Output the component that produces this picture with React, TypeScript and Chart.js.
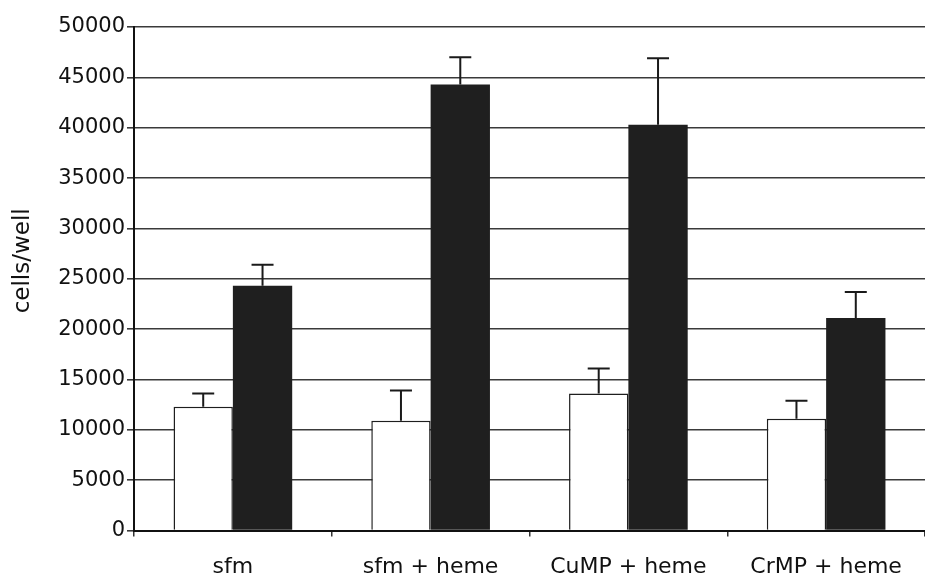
import React, { useEffect, useRef } from "react";
import { Chart, registerables } from "chart.js";

Chart.register(...registerables);

// Treatment groups along the x axis
const categories = ["sfm", "sfm + heme", "CuMP + heme", "CrMP + heme"];
// Mean cell counts per well
const openMeans = [12300, 10900, 13600, 11100];
const filledMeans = [24300, 44300, 40300, 21100];
// Upper error (SD) above each mean
const openErrors = [1300, 3000, 2500, 1800];
const filledErrors = [2100, 2700, 6600, 2600];
// Y axis range
const yMin = 0;
const yMax = 50000;
const yStep = 5000;
const yTitle = "cells/well";

const FONT = "'DejaVu Sans', sans-serif";

const errorBarPlugin = {
  id: "upperErrorBars",
  afterDatasetsDraw(chart: any) {
    const ctx = chart.ctx;
    const yScale = chart.scales.y;
    chart.data.datasets.forEach((ds: any, i: number) => {
      const meta = chart.getDatasetMeta(i);
      const errs: number[] = ds.errors || [];
      meta.data.forEach((bar: any, j: number) => {
        const v = ds.data[j];
        const top = yScale.getPixelForValue(v + errs[j]);
        const base = yScale.getPixelForValue(v);
        ctx.save();
        ctx.strokeStyle = "#1a1a1a";
        ctx.lineWidth = 2;
        ctx.beginPath();
        ctx.moveTo(bar.x, base);
        ctx.lineTo(bar.x, top);
        ctx.moveTo(bar.x - 11, top);
        ctx.lineTo(bar.x + 11, top);
        ctx.stroke();
        ctx.restore();
      });
    });
  },
};

// Rotated y-axis caption, sitting a little above the middle of the plot
const yTitlePlugin = {
  id: "yCaption",
  afterDraw(chart: any) {
    const ctx = chart.ctx;
    const area = chart.chartArea;
    ctx.save();
    ctx.translate(23, (area.top + area.bottom) / 2 - 18);
    ctx.rotate(-Math.PI / 2);
    ctx.fillStyle = "#111111";
    ctx.font = `23px ${FONT}`;
    ctx.textAlign = "center";
    ctx.textBaseline = "middle";
    ctx.fillText(yTitle, 0, 0);
    ctx.restore();
  },
};

export default function App() {
  const canvasRef = useRef<HTMLCanvasElement | null>(null);

  useEffect(() => {
    const canvas = canvasRef.current;
    if (!canvas) return;
    const chart = new Chart(canvas, {
      type: "bar",
      data: {
        labels: categories,
        datasets: [
          {
            label: "open",
            data: openMeans,
            errors: openErrors,
            backgroundColor: "#ffffff",
            borderColor: "#1e1e1e",
            borderWidth: 1.5,
            categoryPercentage: 0.6,
            barPercentage: 1.0,
          } as any,
          {
            label: "filled",
            data: filledMeans,
            errors: filledErrors,
            backgroundColor: "#1f1f1f",
            borderColor: "#1f1f1f",
            borderWidth: 0,
            categoryPercentage: 0.6,
            barPercentage: 1.0,
          } as any,
        ],
      },
      options: {
        animation: false,
        responsive: false,
        maintainAspectRatio: false,
        layout: { padding: { top: 27, right: 0, left: 48, bottom: 0 } },
        plugins: {
          legend: { display: false },
          tooltip: { enabled: false },
        },
        scales: {
          x: {
            grid: {
              display: true,
              offset: true,
              drawOnChartArea: false,
              drawTicks: true,
              tickLength: 6,
              color: "#333333",
              lineWidth: 1.5,
            },
            border: { display: true, color: "#111111", width: 2 },
            ticks: {
              color: "#111111",
              padding: 17,
              font: { family: FONT, size: 22 },
            },
          },
          y: {
            min: yMin,
            max: yMax,
            afterFit(scale: any) {
              scale.width = 86;
            },
            grid: {
              color: "#3a3a3a",
              lineWidth: 1.6,
              tickLength: 7,
              drawTicks: true,
            },
            border: { display: true, color: "#111111", width: 2 },
            ticks: {
              stepSize: yStep,
              color: "#111111",
              padding: 2,
              font: { family: FONT, size: 21 },
              callback: (v: any) => String(v),
            },
          },
        },
      },
      plugins: [errorBarPlugin, yTitlePlugin],
    });
    return () => chart.destroy();
  }, []);

  return (
    <div
      style={{
        position: "fixed",
        left: 0,
        top: 0,
        width: 925,
        height: 581,
        overflow: "hidden",
        background: "#ffffff",
      }}
    >
      <canvas ref={canvasRef} width={925} height={597} />
    </div>
  );
}
